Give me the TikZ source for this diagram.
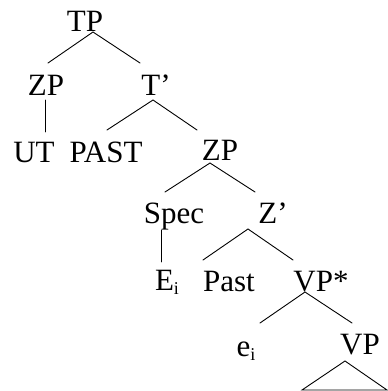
\documentclass[tikz,border=0pt]{standalone}
\usepackage{fontspec}
\setmainfont{Liberation Serif}
\begin{document}
\begin{tikzpicture}[x=1pt, y=-1pt,
  lbl/.style={inner sep=0pt, anchor=base, font=\fontsize{31}{31}\selectfont},
  branch/.style={line width=0.9pt, line cap=round}]
\newcommand{\subi}{\raisebox{-4pt}{\fontsize{18}{18}\selectfont i}}
\useasboundingbox (0,0) rectangle (388,391);

% labels of the tree
\node[lbl] (tp)    at (85,31)   {TP};
\node[lbl] (zpa)   at (46,95)   {ZP};
\node[lbl] (tbar)  at (156,95)  {T’};
\node[lbl] (ut)    at (34,162)  {UT};
\node[lbl] (past1) at (106,162) {PAST};
\node[lbl] (zpb)   at (220,160) {ZP};
\node[lbl] (spec)  at (174,223) {Spec};
\node[lbl] (zbar)  at (273,223) {Z’};
\node[lbl] (ei1)   at (167,290) {E\subi};
\node[lbl] (past2) at (229,291) {Past};
\node[lbl] (vps)   at (321,291) {VP*};
\node[lbl] (ei2)   at (246,356) {e\subi};
\node[lbl] (vp)    at (360,354) {VP};

% branch end points
\coordinate (tp-d)    at (93,32);
\coordinate (zpa-u)   at (48,63);
\coordinate (tbar-u)  at (140,63);
\coordinate (zpa-d)   at (45,100);
\coordinate (ut-u)    at (45,132);
\coordinate (tbar-d)  at (153,100);
\coordinate (past1-u) at (107,130);
\coordinate (zpb-u)   at (197,130);
\coordinate (zpb-d)   at (210,163);
\coordinate (spec-u)  at (165,192);
\coordinate (zbar-u)  at (255,192);
\coordinate (spec-d)  at (161,230);
\coordinate (ei1-u)   at (161,262);
\coordinate (zbar-d)  at (248,229);
\coordinate (past2-u) at (203,260);
\coordinate (vps-u)   at (293,260);
\coordinate (vps-d)   at (305,292);
\coordinate (ei2-u)   at (260,323);
\coordinate (vp-u)    at (352,323);
\coordinate (vp-d)    at (345,361);
\coordinate (tri-l)   at (302,390);
\coordinate (tri-r)   at (387,390);

% branches
\draw[branch] (zpa-u) -- (tp-d) -- (tbar-u);
\draw[branch] (zpa-d) -- (ut-u);
\draw[branch] (past1-u) -- (tbar-d) -- (zpb-u);
\draw[branch] (spec-u) -- (zpb-d) -- (zbar-u);
\draw[branch] (spec-d) -- (ei1-u);
\draw[branch] (past2-u) -- (zbar-d) -- (vps-u);
\draw[branch] (ei2-u) -- (vps-d) -- (vp-u);
\draw[branch] (tri-l) -- (vp-d) -- (tri-r) -- cycle;
\end{tikzpicture}
\end{document}
